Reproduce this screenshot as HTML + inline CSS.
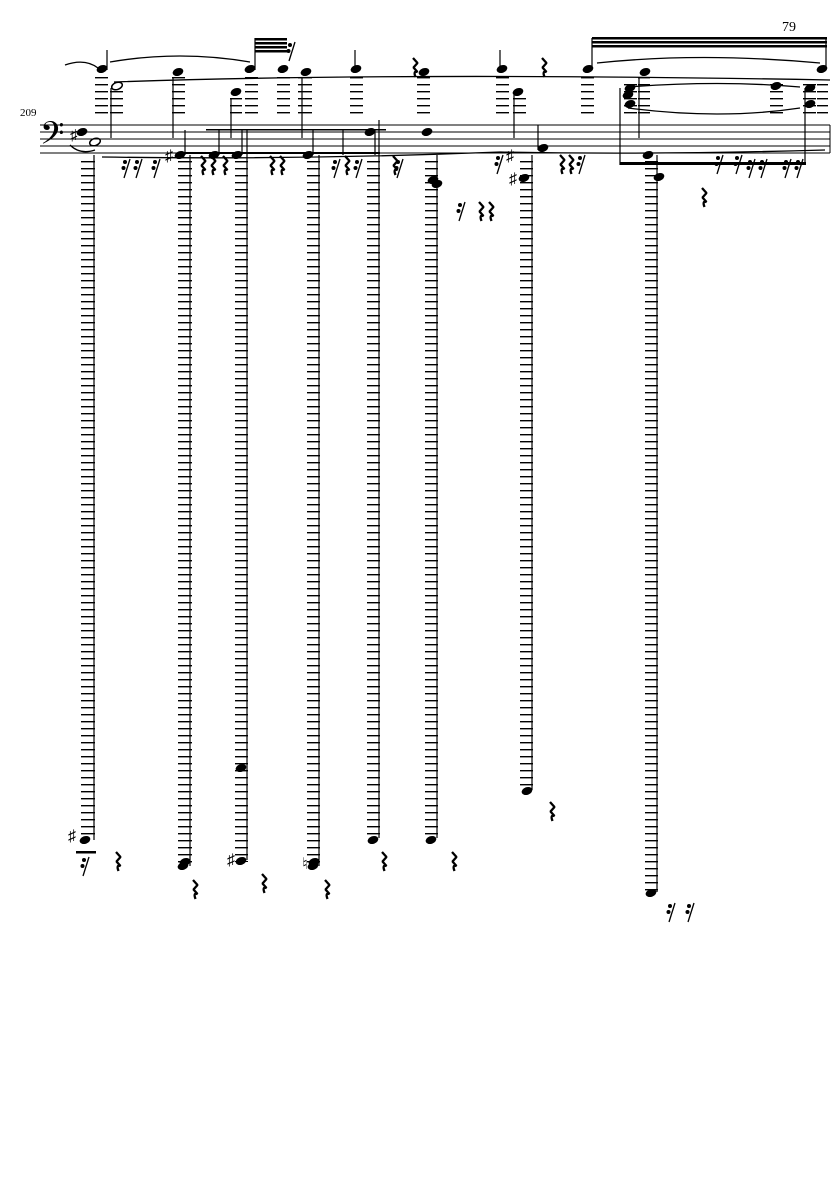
<!DOCTYPE html>
<html><head><meta charset="utf-8"><style>
html,body{margin:0;padding:0;background:#fff;}
svg{display:block;}
text{font-family:"Liberation Serif","DejaVu Serif",serif;}
</style></head><body>
<svg width="835" height="1181" viewBox="0 0 835 1181" xmlns="http://www.w3.org/2000/svg">
<defs>
<pattern id="led" x="0" y="0" width="20" height="7" patternUnits="userSpaceOnUse">
<rect x="0" y="0" width="20" height="1.4" fill="#000"/>
</pattern>
<g id="rest"><path d="M0,0 L4.5,5 L0.5,9.5 L4.5,14 Q0,12.5 2.5,19" fill="none" stroke="#000" stroke-width="2.3" stroke-linejoin="bevel"/></g>
<g id="r16" fill="#000"><circle cx="0" cy="0" r="2"/><circle cx="-1.5" cy="6" r="2"/><path d="M5,-3 L-1,16" stroke="#000" stroke-width="1.3"/></g>
</defs>
<text x="782" y="31" font-size="14">79</text>
<text x="20" y="116" font-size="11">209</text>
<g stroke="#000" stroke-width="1">
<line x1="40" y1="125" x2="830" y2="125"/>
<line x1="40" y1="132" x2="830" y2="132"/>
<line x1="40" y1="139" x2="830" y2="139"/>
<line x1="40" y1="146" x2="830" y2="146"/>
<line x1="40" y1="153" x2="830" y2="153"/>
<line x1="830" y1="125" x2="830" y2="153"/>
</g>
<text x="40" y="150" font-size="38">𝄢</text>
<text x="70" y="140" font-size="15">♯</text>
<g fill="url(#led)">
<rect x="95" y="75" width="13" height="44"/>
<rect x="110" y="90" width="13" height="29"/>
<rect x="172" y="75" width="13" height="44"/>
<rect x="230" y="96" width="12" height="23"/>
<rect x="245" y="75" width="13" height="44"/>
<rect x="277" y="75" width="13" height="44"/>
<rect x="298" y="75" width="14" height="44"/>
<rect x="350" y="75" width="13" height="44"/>
<rect x="417" y="75" width="13" height="44"/>
<rect x="496" y="75" width="13" height="44"/>
<rect x="513" y="96" width="13" height="23"/>
<rect x="581" y="75" width="13" height="44"/>
<rect x="624" y="82" width="13" height="37"/>
<rect x="638" y="75" width="12" height="44"/>
<rect x="770" y="82" width="13" height="37"/>
<rect x="803" y="82" width="13" height="37"/>
<rect x="817" y="82" width="11" height="37"/>
</g>
<g fill="url(#led)">
<rect x="81" y="160" width="14" height="680"/>
<rect x="178" y="160" width="14" height="706"/>
<rect x="235" y="160" width="13" height="702"/>
<rect x="307" y="160" width="13" height="706"/>
<rect x="367" y="160" width="13" height="678"/>
<rect x="425" y="160" width="13" height="678"/>
<rect x="520" y="160" width="13" height="630"/>
<rect x="645" y="160" width="13" height="732"/>
</g>
<g stroke="#000" stroke-width="1.2">
<line x1="94" y1="155" x2="94" y2="840"/>
<line x1="190" y1="155" x2="190" y2="866"/>
<line x1="247" y1="130" x2="247" y2="860"/>
<line x1="319" y1="155" x2="319" y2="866"/>
<line x1="379" y1="120" x2="379" y2="838"/>
<line x1="437" y1="155" x2="437" y2="838"/>
<line x1="532" y1="155" x2="532" y2="790"/>
<line x1="657" y1="155" x2="657" y2="892"/>
<line x1="107" y1="50" x2="107" y2="70"/>
<line x1="111" y1="88" x2="111" y2="138"/>
<line x1="173" y1="78" x2="173" y2="138"/>
<line x1="231" y1="98" x2="231" y2="138"/>
<line x1="255" y1="38" x2="255" y2="70"/>
<line x1="302" y1="78" x2="302" y2="138"/>
<line x1="355" y1="50" x2="355" y2="70"/>
<line x1="343" y1="130" x2="343" y2="155"/>
<line x1="514" y1="95" x2="514" y2="138"/>
<line x1="500" y1="50" x2="500" y2="70"/>
<line x1="592" y1="38" x2="592" y2="70"/>
<line x1="620" y1="88" x2="620" y2="165"/>
<line x1="639" y1="78" x2="639" y2="138"/>
<line x1="805" y1="88" x2="805" y2="165"/>
<line x1="826" y1="38" x2="826" y2="70"/>
<line x1="538" y1="125" x2="538" y2="150"/>
<line x1="185" y1="130" x2="185" y2="155"/>
<line x1="219" y1="130" x2="219" y2="155"/>
<line x1="242" y1="130" x2="242" y2="155"/>
<line x1="313" y1="130" x2="313" y2="155"/>
<line x1="375" y1="130" x2="375" y2="155"/>
</g>
<g fill="#000">
<rect x="255" y="38" width="32" height="2.5"/>
<rect x="255" y="42" width="32" height="2.5"/>
<rect x="255" y="46" width="32" height="2.5"/>
<rect x="255" y="50" width="32" height="2.5"/>
<rect x="592" y="37" width="235" height="2.5"/>
<rect x="592" y="41" width="235" height="2.5"/>
<rect x="592" y="45" width="235" height="2.5"/>
<rect x="185" y="152" width="195" height="2"/>
<rect x="206" y="129" width="180" height="1.5"/>
<rect x="620" y="162" width="186" height="3"/>
</g>
<g fill="none" stroke="#000" stroke-width="1.3">
<path d="M65,65 Q85,58 98,68"/>
<path d="M110,62 Q180,50 250,62"/>
<path d="M114,82 Q400,72 830,80"/>
<path d="M597,63 Q700,52 820,63"/>
<path d="M628,87 Q720,80 800,87"/>
<path d="M628,108 Q720,120 800,108"/>
<path d="M70,145 Q80,155 95,150"/>
<path d="M102,157 Q300,160 500,152 Q650,155 825,150"/>
</g>
<g fill="#000">
<ellipse cx="102" cy="69" rx="5.5" ry="3.8" transform="rotate(-20 102 69)"/>
<ellipse cx="117" cy="86" rx="5.5" ry="3.5" fill="none" stroke="#000" stroke-width="1.5" transform="rotate(-20 117 86)"/>
<ellipse cx="178" cy="72" rx="5.5" ry="3.8" transform="rotate(-20 178 72)"/>
<ellipse cx="236" cy="92" rx="5.5" ry="3.8" transform="rotate(-20 236 92)"/>
<ellipse cx="250" cy="69" rx="5.5" ry="3.8" transform="rotate(-20 250 69)"/>
<ellipse cx="283" cy="69" rx="5.5" ry="3.8" transform="rotate(-20 283 69)"/>
<ellipse cx="306" cy="72" rx="5.5" ry="3.8" transform="rotate(-20 306 72)"/>
<ellipse cx="356" cy="69" rx="5.5" ry="3.8" transform="rotate(-20 356 69)"/>
<ellipse cx="424" cy="72" rx="5.5" ry="3.8" transform="rotate(-20 424 72)"/>
<ellipse cx="502" cy="69" rx="5.5" ry="3.8" transform="rotate(-20 502 69)"/>
<ellipse cx="518" cy="92" rx="5.5" ry="3.8" transform="rotate(-20 518 92)"/>
<ellipse cx="588" cy="69" rx="5.5" ry="3.8" transform="rotate(-20 588 69)"/>
<ellipse cx="645" cy="72" rx="5.5" ry="3.8" transform="rotate(-20 645 72)"/>
<ellipse cx="630" cy="88" rx="5.5" ry="3.8" transform="rotate(-20 630 88)"/>
<ellipse cx="628" cy="95" rx="5.5" ry="3.8" transform="rotate(-20 628 95)"/>
<ellipse cx="630" cy="104" rx="5.5" ry="3.8" transform="rotate(-20 630 104)"/>
<ellipse cx="776" cy="86" rx="5.5" ry="3.8" transform="rotate(-20 776 86)"/>
<ellipse cx="810" cy="88" rx="5.5" ry="3.8" transform="rotate(-20 810 88)"/>
<ellipse cx="810" cy="104" rx="5.5" ry="3.8" transform="rotate(-20 810 104)"/>
<ellipse cx="822" cy="69" rx="5.5" ry="3.8" transform="rotate(-20 822 69)"/>
<ellipse cx="82" cy="132" rx="5.5" ry="3.8" transform="rotate(-20 82 132)"/>
<ellipse cx="95" cy="142" rx="5.5" ry="3.5" fill="none" stroke="#000" stroke-width="1.5" transform="rotate(-20 95 142)"/>
<ellipse cx="180" cy="155" rx="5.5" ry="3.8" transform="rotate(-20 180 155)"/>
<ellipse cx="214" cy="155" rx="5.5" ry="3.8" transform="rotate(-20 214 155)"/>
<ellipse cx="237" cy="155" rx="5.5" ry="3.8" transform="rotate(-20 237 155)"/>
<ellipse cx="308" cy="155" rx="5.5" ry="3.8" transform="rotate(-20 308 155)"/>
<ellipse cx="370" cy="132" rx="5.5" ry="3.8" transform="rotate(-20 370 132)"/>
<ellipse cx="427" cy="132" rx="5.5" ry="3.8" transform="rotate(-20 427 132)"/>
<ellipse cx="433" cy="180" rx="5.5" ry="3.8" transform="rotate(-20 433 180)"/>
<ellipse cx="437" cy="184" rx="5.5" ry="3.8" transform="rotate(-20 437 184)"/>
<ellipse cx="543" cy="148" rx="5.5" ry="3.8" transform="rotate(-20 543 148)"/>
<ellipse cx="524" cy="178" rx="5.5" ry="3.8" transform="rotate(-20 524 178)"/>
<ellipse cx="648" cy="155" rx="5.5" ry="3.8" transform="rotate(-20 648 155)"/>
<ellipse cx="659" cy="177" rx="5.5" ry="3.8" transform="rotate(-20 659 177)"/>
<ellipse cx="85" cy="840" rx="5.5" ry="3.8" transform="rotate(-20 85 840)"/>
<ellipse cx="183" cy="866" rx="5.5" ry="3.8" transform="rotate(-20 183 866)"/>
<ellipse cx="185" cy="862" rx="5.5" ry="3.8" transform="rotate(-20 185 862)"/>
<ellipse cx="241" cy="768" rx="5.5" ry="3.8" transform="rotate(-20 241 768)"/>
<ellipse cx="241" cy="861" rx="5.5" ry="3.8" transform="rotate(-20 241 861)"/>
<ellipse cx="313" cy="866" rx="5.5" ry="3.8" transform="rotate(-20 313 866)"/>
<ellipse cx="314" cy="862" rx="5.5" ry="3.8" transform="rotate(-20 314 862)"/>
<ellipse cx="373" cy="840" rx="5.5" ry="3.8" transform="rotate(-20 373 840)"/>
<ellipse cx="431" cy="840" rx="5.5" ry="3.8" transform="rotate(-20 431 840)"/>
<ellipse cx="527" cy="791" rx="5.5" ry="3.8" transform="rotate(-20 527 791)"/>
<ellipse cx="651" cy="893" rx="5.5" ry="3.8" transform="rotate(-20 651 893)"/>
<rect x="76" y="851" width="20" height="2.5"/>
</g>
<g font-size="16">
<text x="165" y="161">♯</text>
<text x="506" y="161">♯</text>
<text x="509" y="184">♯</text>
<text x="68" y="841">♯</text>
<text x="227" y="865">♯</text>
<text x="302" y="869">♮</text>
</g>
<g>
<use href="#rest" x="413" y="58"/>
<use href="#rest" x="542" y="58"/>
<use href="#rest" x="201" y="156"/>
<use href="#rest" x="211" y="156"/>
<use href="#rest" x="223" y="156"/>
<use href="#rest" x="270" y="156"/>
<use href="#rest" x="280" y="156"/>
<use href="#rest" x="345" y="156"/>
<use href="#rest" x="393" y="156"/>
<use href="#rest" x="560" y="155"/>
<use href="#rest" x="569" y="155"/>
<use href="#rest" x="479" y="202"/>
<use href="#rest" x="489" y="202"/>
<use href="#rest" x="702" y="188"/>
<use href="#rest" x="116" y="852"/>
<use href="#rest" x="193" y="880"/>
<use href="#rest" x="262" y="874"/>
<use href="#rest" x="325" y="880"/>
<use href="#rest" x="382" y="852"/>
<use href="#rest" x="452" y="852"/>
<use href="#rest" x="550" y="802"/>
</g>
<g>
<use href="#r16" x="125" y="162"/>
<use href="#r16" x="137" y="162"/>
<use href="#r16" x="155" y="162"/>
<use href="#r16" x="335" y="162"/>
<use href="#r16" x="357" y="162"/>
<use href="#r16" x="398" y="162"/>
<use href="#r16" x="460" y="205"/>
<use href="#r16" x="498" y="158"/>
<use href="#r16" x="580" y="158"/>
<use href="#r16" x="718" y="158"/>
<use href="#r16" x="737" y="158"/>
<use href="#r16" x="750" y="162"/>
<use href="#r16" x="762" y="162"/>
<use href="#r16" x="786" y="162"/>
<use href="#r16" x="798" y="162"/>
<use href="#r16" x="670" y="906"/>
<use href="#r16" x="689" y="906"/>
<use href="#r16" x="84" y="860"/>
<use href="#r16" x="290" y="45"/>
</g>
</svg>
</body></html>
